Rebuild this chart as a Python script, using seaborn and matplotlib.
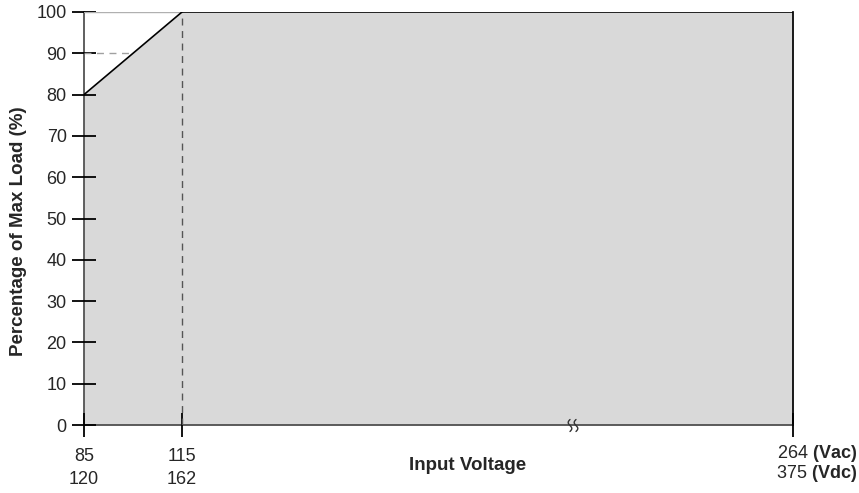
import numpy as np
import pandas as pd
import matplotlib
matplotlib.use("Agg")
import matplotlib.pyplot as plt
import seaborn as sns

# datos de la curva de derating
voltaje_ac = [85, 115, 264]
voltaje_dc = [120, 162, 375]
carga = [80, 100, 100]
yticks = list(range(0, 101, 10))

sns.set_theme(style="white")
plt.rcParams["font.family"] = ["Liberation Sans", "DejaVu Sans"]
plt.rcParams["mathtext.fontset"] = "custom"
plt.rcParams["mathtext.rm"] = "Liberation Sans"
plt.rcParams["mathtext.bf"] = "Liberation Sans:bold"

# eje x partido: tramo 85-115 ampliado, tramo 115-264 comprimido
pos_px = [0, 98, 709]
def fwd(v):
  return np.interp(v, voltaje_ac, pos_px)
def inv(p):
  return np.interp(p, pos_px, voltaje_ac)

df = pd.DataFrame({"ac": voltaje_ac, "carga": carga})

W, H = 709, 413
fig = plt.figure(figsize=(8.59, 4.93), dpi=100)
ax = fig.add_axes([84/859, 68/493, W/859, H/493])
ax.set_xscale("function", functions=(fwd, inv))
ax.set_axisbelow(False)

ax.fill_between(df["ac"], 0, df["carga"], color="#d9d9d9", lw=0, zorder=1)
sns.lineplot(data=df, x="ac", y="carga", color="black", lw=1.2, ax=ax, zorder=4)

# lineas auxiliares
ax.plot([85, 115], [100, 100], color="#b0b0b0", lw=1, zorder=3)
ax.plot([85, 100], [90, 90], color="#a0a0a0", lw=1, ls=(0, (5, 4)), zorder=3)
ax.plot([115, 115], [0, 100], color="#555555", lw=1, ls=(0, (5, 4)), zorder=3)

ax.set_xlim(85, 264)
ax.set_ylim(0, 100)
ax.set_yticks(yticks)
ax.set_yticklabels([str(t) for t in yticks], fontsize=13)
ax.set_xticks(voltaje_ac)
ax.set_xticklabels([f"{a}\n{d}" for a, d in zip(voltaje_ac[:2], voltaje_dc[:2])] + [""],
                   fontsize=13, linespacing=1.45)
ax.tick_params(axis="both", direction="inout", length=17, width=1.3, color="black",
               pad=4, left=True, bottom=True, zorder=7)
ax.tick_params(axis="x", pad=8)

for lado in ["left", "bottom"]:
  ax.spines[lado].set_color("#444444")
  ax.spines[lado].set_linewidth(1.2)
ax.spines["right"].set_color("black")
ax.spines["top"].set_visible(False)
ax.spines["bottom"].set_bounds(85, 264)

fig.text(857/859, 1 - 453/493, f"{voltaje_ac[2]} " + r"$\mathbf{(Vac)}$",
         ha="right", va="center", fontsize=13)
fig.text(857/859, 1 - 474/493, f"{voltaje_dc[2]} " + r"$\mathbf{(Vdc)}$",
         ha="right", va="center", fontsize=13)

# marca de eje partido (dos eses)
t = np.linspace(-1, 1, 30)
cx = 573 - 84
for dx in (-3, 3):
  ax.plot((cx + dx + 1.8*np.sin(np.pi*t)) / W, (-6*t - 0.5) / H, color="#333333", lw=1,
          transform=ax.transAxes, clip_on=False, zorder=6)

ax.set_ylabel("Percentage of Max Load (%)", fontsize=13.5, fontweight="bold")
ax.yaxis.set_label_coords((27 - 84) / W, (425 - 231) / H)
ax.set_xlabel("")
fig.text(468/859, 1 - 466/493, "Input Voltage", ha="center", va="center",
         fontsize=13.5, fontweight="bold")

fig.savefig("out.png", dpi=100)
